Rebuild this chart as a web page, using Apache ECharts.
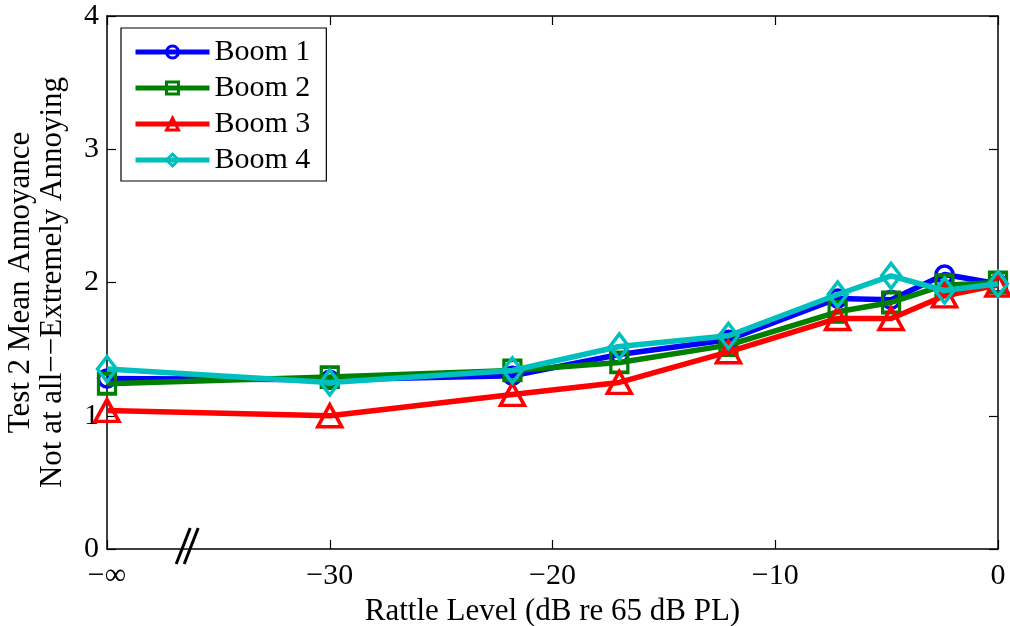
<!DOCTYPE html>
<html>
<head>
<meta charset="utf-8">
<script src="https://cdn.jsdelivr.net/npm/echarts@6/dist/echarts.min.js"></script>
<style>html,body{margin:0;padding:0;background:#fff}#c{width:1010px;height:626px}</style>
</head>
<body>
<div id="c"></div>
<script>
var levels = [-40, -30, -21.8, -17, -12.1, -7.2, -4.8, -2.4, 0];
var boom1 = [1.28, 1.27, 1.30, 1.46, 1.57, 1.88, 1.87, 2.06, 1.99];
var boom2 = [1.24, 1.29, 1.34, 1.40, 1.53, 1.78, 1.85, 1.98, 2.00];
var boom3 = [1.04, 1.00, 1.16, 1.25, 1.48, 1.73, 1.73, 1.90, 1.98];
var boom4 = [1.35, 1.25, 1.34, 1.52, 1.60, 1.91, 2.05, 1.94, 1.99];
var seriesNames = ['Boom 1', 'Boom 2', 'Boom 3', 'Boom 4'];
var colors = ['#0000ff', '#008000', '#ff0000', '#00bfbf'];
var symbols = ['circle', 'rect', 'triangle', 'diamond'];
var symbolSizes = [[17, 17], [17, 20], [24, 22], [19, 25]];
var breakAt = [-36.4, 0];
var FONT = 'Liberation Serif';

function pairs(vals) { return levels.map(function (x, i) { return [x, vals[i]]; }); }
var allVals = [boom1, boom2, boom3, boom4];

var series = allVals.map(function (v, i) {
  return {
    name: seriesNames[i], type: 'line', data: pairs(v),
    symbol: symbols[i], symbolSize: symbolSizes[i],
    lineStyle: { color: colors[i], width: 5.5 },
    itemStyle: { color: 'rgba(255,255,255,0)', borderColor: colors[i], borderWidth: 3.5 },
    emphasis: { disabled: true }, animation: false, z: 3 + i
  };
});
series.push({
  type: 'custom', data: [breakAt], clip: false, z: 20, silent: true, animation: false,
  renderItem: function (params, api) {
    var p = api.coord([api.value(0), api.value(1)]);
    var lines = [-4, 4].map(function (o) {
      return { type: 'line', shape: { x1: p[0] + o + 7, y1: p[1] - 21, x2: p[0] + o - 7, y2: p[1] + 15 },
        style: { stroke: '#000', lineWidth: 3 } };
    });
    return { type: 'group', children: lines };
  }
});

var axisLineStyle = { onZero: false, show: true, lineStyle: { color: '#000', width: 1.5 } };
var tickStyle = { show: true, inside: true, length: 9, lineStyle: { color: '#000', width: 1.2 } };

var chart = echarts.init(document.getElementById('c'));
chart.setOption({
  animation: false,
  grid: { left: 107, right: 12, top: 16, bottom: 77, show: false, containLabel: false, outerBoundsMode: 'none' },
  legend: {
    data: seriesNames, orient: 'vertical', left: 121, top: 28,
    itemWidth: 74, itemHeight: 15, itemGap: 6,
    padding: [9, 16, 6, 12],
    backgroundColor: '#fff', borderColor: '#000', borderWidth: 1.2,
    lineStyle: { width: 5 },
    itemStyle: { borderWidth: 3 },
    textStyle: { fontFamily: FONT, fontSize: 30, color: '#000' },
    selectedMode: false
  },
  xAxis: [{
    type: 'value', min: -40, max: 0, interval: 10,
    name: 'Rattle Level (dB re 65 dB PL)', nameLocation: 'middle', nameGap: 42,
    nameTextStyle: { fontFamily: FONT, fontSize: 31, color: '#000' },
    axisLine: axisLineStyle, axisTick: tickStyle,
    axisLabel: { fontFamily: FONT, fontSize: 30, color: '#000', margin: 12,
      formatter: function (v) { return v === -40 ? '\u2212\u221e' : (v < 0 ? '\u2212' + Math.abs(v) : String(v)); } },
    splitLine: { show: false }
  }, {
    type: 'value', min: -40, max: 0, interval: 10, position: 'top',
    axisLine: axisLineStyle, axisTick: tickStyle,
    axisLabel: { show: false }, splitLine: { show: false }
  }],
  yAxis: [{
    type: 'value', min: 0, max: 4, interval: 1,
    name: 'Test 2 Mean Annoyance\nNot at all\u2212\u2212Extremely Annoying',
    nameLocation: 'middle', nameGap: 38, nameRotate: 90,
    nameTextStyle: { fontFamily: FONT, fontSize: 31, color: '#000', lineHeight: 32 },
    axisLine: axisLineStyle, axisTick: tickStyle,
    axisLabel: { fontFamily: FONT, fontSize: 30, color: '#000', margin: 8 },
    splitLine: { show: false }
  }, {
    type: 'value', min: 0, max: 4, interval: 1, position: 'right',
    axisLine: axisLineStyle, axisTick: tickStyle,
    axisLabel: { show: false }, splitLine: { show: false }
  }],
  series: series
});
</script>
</body>
</html>
